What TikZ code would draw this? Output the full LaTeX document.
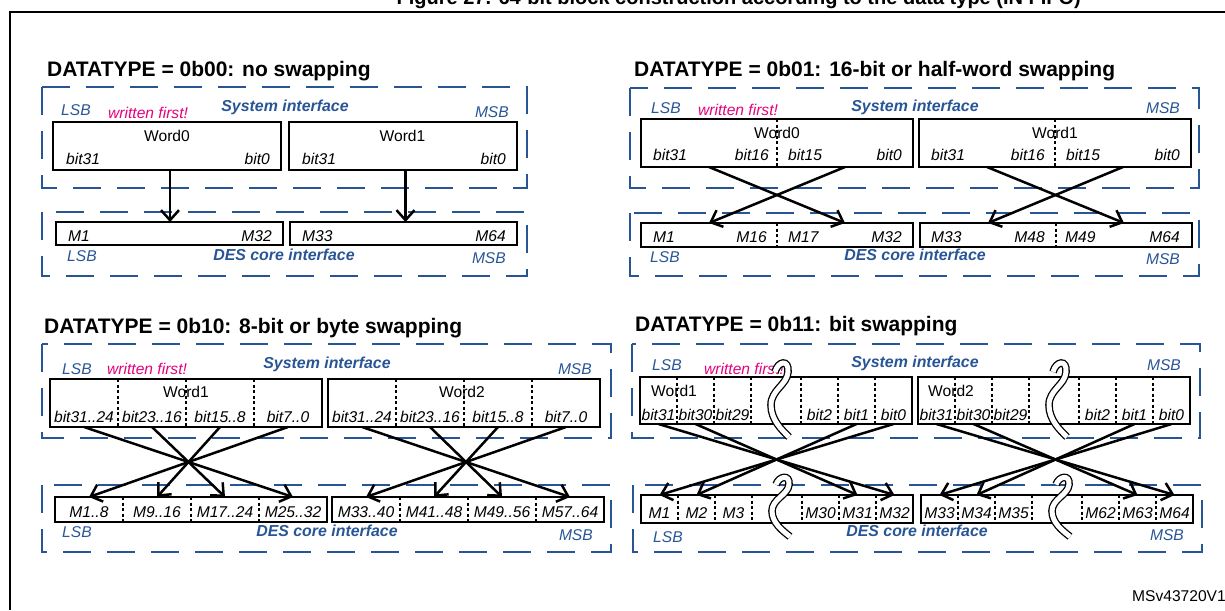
\documentclass[tikz,border=0pt]{standalone}
\usepackage{fontspec}
\setmainfont{Liberation Sans}
\usetikzlibrary{arrows.meta,positioning}
\definecolor{ifblue}{RGB}{40,85,150}
\definecolor{firstpink}{RGB}{230,0,126}

\begin{document}
\begin{tikzpicture}[x=1pt, y=-1pt,
    heading/.style={font=\fontsize{21}{24}\selectfont\bfseries, anchor=base west, inner sep=0},
    lbl/.style={font=\fontsize{15.6}{18}\selectfont\itshape, inner sep=0},
    wtxt/.style={font=\fontsize{15.6}{18}\selectfont, inner sep=0},
    iface/.style={font=\fontsize{15.9}{18}\selectfont\bfseries\itshape, text=ifblue, inner sep=0},
    side/.style={lbl, text=ifblue},
    first/.style={lbl, text=firstpink, anchor=west},
    seg/.style={rectangle, inner sep=0, outer sep=0},
    wbox/.style={seg, draw, line width=2pt},
    box/.style={draw, line width=2pt},
    ifframe/.style={draw=ifblue, line width=2pt, dash pattern=on 28pt off 16pt},
    divider/.style={line width=1.5pt, dash pattern=on 3pt off 2.5pt},
    arrow/.style={-{Straight Barb[length=10pt,width=18pt]}, line width=2.5pt},
    brk/.style={double, double distance=5pt, line width=1.3pt},
    brkpic/.pic={\draw[brk] (-3,-28) .. controls (0,-39) and (11,-41) .. (10,-28)
        .. controls (9,-15) and (-7,-10) .. (-7,5) .. controls (-7,20) and (4,30) .. (11,37);}
]
\useasboundingbox (0,0) rectangle (1225,610);

% outer figure frame and caption
\draw[line width=2pt] (10,610) -- (10,12) -- (1225,12);
\node[font=\fontsize{20}{24}\selectfont\bfseries, anchor=base east, inner sep=0] (title) at (1081,5)
    {Figure 27. 64-bit block construction according to the data type (IN FIFO)};
\node[wtxt, anchor=base east] (ref) at (1226,601) {MSv43720V1};

% ---------------- DATATYPE = 0b00 ----------------
\node[heading] (h00) at (47,77) {DATATYPE = 0b00: no swapping};
\draw[ifframe] (42,87) rectangle (527,188);
\draw[ifframe] (42,212) rectangle (527,276);
\node[side, anchor=west] (lsb00) at (61,110) {LSB};
\node[first] (wf00) at (108,113) {written first!};
\node[iface] (sys00) at (285,107) {System interface};
\node[side, anchor=east] (msb00) at (509,112) {MSB};

\node[wbox, minimum width=228pt, minimum height=48pt] (w00a) at (167,146) {};
\node[wbox, minimum width=228pt, minimum height=48pt] (w00b) at (402.5,146) {};
\node[wtxt] (t00a) at (167,136) {Word0};
\node[wtxt] (t00b) at (402.5,136) {Word1};
\node[lbl, anchor=west] (b00a1) at (66,159) {bit31};
\node[lbl, anchor=east] (b00a2) at (270,159) {bit0};
\node[lbl, anchor=west] (b00b1) at (302,159) {bit31};
\node[lbl, anchor=east] (b00b2) at (506,159) {bit0};

\node[wbox, minimum width=227pt, minimum height=23pt] (m00a) at (169.5,233.5) {};
\node[wbox, minimum width=227pt, minimum height=23pt] (m00b) at (403,233.5) {};
\node[lbl, anchor=west] (n00a1) at (68,236) {M1};
\node[lbl, anchor=east] (n00a2) at (272,236) {M32};
\node[lbl, anchor=west] (n00b1) at (302,236) {M33};
\node[lbl, anchor=east] (n00b2) at (506,236) {M64};
\node[side, anchor=west] (lsb00d) at (67,256) {LSB};
\node[iface] (des00) at (284,255) {DES core interface};
\node[side, anchor=east] (msb00d) at (506,258) {MSB};

\draw[arrow] ([xshift=3pt]w00a.south) -- ([xshift=3pt]w00a.south |- m00a.north);
\draw[arrow] ([xshift=3pt]w00b.south) -- ([xshift=3pt]w00b.south |- m00b.north);

% ---------------- DATATYPE = 0b01 ----------------
\node[heading] (h01) at (634,77) {DATATYPE = 0b01: 16-bit or half-word swapping};
\draw[ifframe] (630,88) rectangle (1199,188);
\draw[ifframe] (630,213) rectangle (1199,276);
\node[side, anchor=west] (lsb01) at (651,108) {LSB};
\node[first] (wf01) at (698,110) {written first!};
\node[iface] (sys01) at (915,107) {System interface};
\node[side, anchor=east] (msb01) at (1180,108) {MSB};

\foreach \n/\x in {w01a/641, w01b/919} {
  \node[seg, minimum width=136pt, minimum height=48pt] (\n1) at (\x+68,143) {};
  \node[seg, minimum width=136pt, minimum height=48pt] (\n2) at (\x+204,143) {};
}
\foreach \n/\x in {m01a/641, m01b/920} {
  \node[seg, minimum width=136pt, minimum height=24pt] (\n1) at (\x+68,235) {};
  \node[seg, minimum width=136pt, minimum height=24pt] (\n2) at (\x+204,235) {};
}
\node[wtxt] (t01a) at (777,133) {Word0};
\node[wtxt] (t01b) at (1055,133) {Word1};
\foreach \n in {w01a, w01b, m01a, m01b} {
  \draw[box] (\n1.north west) rectangle (\n2.south east);
  \draw[divider] (\n1.north east) -- (\n1.south east);
}
\node[lbl, anchor=west] (b01a1) at (653,155) {bit31};
\node[lbl, anchor=east] (b01a2) at (769,155) {bit16};
\node[lbl, anchor=west] (b01a3) at (788,155) {bit15};
\node[lbl, anchor=east] (b01a4) at (902,155) {bit0};
\node[lbl, anchor=west] (b01b1) at (931,155) {bit31};
\node[lbl, anchor=east] (b01b2) at (1045,155) {bit16};
\node[lbl, anchor=west] (b01b3) at (1066,155) {bit15};
\node[lbl, anchor=east] (b01b4) at (1180,155) {bit0};
\node[lbl, anchor=west] (n01a1) at (653,237) {M1};
\node[lbl, anchor=east] (n01a2) at (767,237) {M16};
\node[lbl, anchor=west] (n01a3) at (788,237) {M17};
\node[lbl, anchor=east] (n01a4) at (902,237) {M32};
\node[lbl, anchor=west] (n01b1) at (931,237) {M33};
\node[lbl, anchor=east] (n01b2) at (1045,237) {M48};
\node[lbl, anchor=west] (n01b3) at (1065,237) {M49};
\node[lbl, anchor=east] (n01b4) at (1180,237) {M64};
\node[side, anchor=west] (lsb01d) at (650,257) {LSB};
\node[iface] (des01) at (915,255) {DES core interface};
\node[side, anchor=east] (msb01d) at (1180,259) {MSB};

\foreach \w/\m in {w01a/m01a, w01b/m01b} {
  \draw[arrow] (\w1.south) -- (\m2.north);
  \draw[arrow] (\w2.south) -- (\m1.north);
}

% ---------------- DATATYPE = 0b10 ----------------
\node[heading] (h10) at (44,333) {DATATYPE = 0b10: 8-bit or byte swapping};
\draw[ifframe] (42,344) rectangle (611,438);
\draw[ifframe] (42,485) rectangle (611,552);
\node[side, anchor=west] (lsb10) at (62,369) {LSB};
\node[first] (wf10) at (107,369) {written first!};
\node[iface] (sys10) at (327,364) {System interface};
\node[side, anchor=east] (msb10) at (592,369) {MSB};
\node[wtxt] (t10a) at (186,392) {Word1};
\node[wtxt] (t10b) at (462,392) {Word2};

\foreach \i in {1,...,4} {
  \node[seg, minimum width=68pt, minimum height=48pt] (w10a\i) at (16+68*\i,403) {};
  \node[seg, minimum width=68pt, minimum height=48pt] (w10b\i) at (294+68*\i,403) {};
  \node[seg, minimum width=68pt, minimum height=25pt] (m10a\i) at (21+68*\i,509.5) {};
  \node[seg, minimum width=68pt, minimum height=25pt] (m10b\i) at (298+68*\i,509.5) {};
}
\foreach \n in {w10a, w10b, m10a, m10b} {
  \draw[box] (\n1.north west) rectangle (\n4.south east);
  \foreach \i in {1,2,3}
    \draw[divider] (\n\i.north east) -- (\n\i.south east);
}
\foreach \n/\k in {a/0, b/32} {
  \foreach \i/\t in {1/bit31..24, 2/bit23..16, 3/bit15..8, 4/bit7..0}
    \node[lbl] (b10\n\i) at ([yshift=10pt]w10\n\i.south) {\t};
}
\foreach \i/\t in {1/M1..8, 2/M9..16, 3/M17..24, 4/M25..32}
  \node[lbl] (n10a\i) at ([yshift=-2.5pt]m10a\i) {\t};
\foreach \i/\t in {1/M33..40, 2/M41..48, 3/M49..56, 4/M57..64}
  \node[lbl] (n10b\i) at ([yshift=-2.5pt]m10b\i) {\t};
\node[side, anchor=west] (lsb10d) at (62,532) {LSB};
\node[iface] (des10) at (327,531) {DES core interface};
\node[side, anchor=east] (msb10d) at (593,535) {MSB};

\foreach \n in {a, b} {
  \foreach \i/\j in {1/4, 2/3, 3/2, 4/1}
    \draw[arrow] (w10\n\i.south) -- (m10\n\j.north);
}

% ---------------- DATATYPE = 0b11 ----------------
\node[heading] (h11) at (635,331) {DATATYPE = 0b11: bit swapping};
\draw[ifframe] (632,344) rectangle (1200,438);
\draw[ifframe] (633,485) rectangle (1202,552);
\node[side, anchor=west] (lsb11) at (652,365) {LSB};
\node[iface] (sys11) at (915,363) {System interface};
\node[side, anchor=east] (msb11) at (1181,365) {MSB};

\foreach \i/\dx/\w in {1/18.5/37, 2/55.5/37, 3/92.5/37, 4/136/50, 5/179.5/37, 6/216.5/37, 7/253.5/37} {
  \node[seg, minimum width=\w pt, minimum height=47pt] (w11a\i) at (640+\dx,400.5) {};
  \node[seg, minimum width=\w pt, minimum height=47pt] (w11b\i) at (918+\dx,400.5) {};
  \node[seg, minimum width=\w pt, minimum height=28pt] (m11a\i) at (641+\dx,509) {};
  \node[seg, minimum width=\w pt, minimum height=28pt] (m11b\i) at (921+\dx,509) {};
}
\node[wtxt, anchor=west] (t11a) at (651,391) {Word1};
\node[wtxt, anchor=west] (t11b) at (928,391) {Word2};
\foreach \n in {w11a, w11b, m11a, m11b} {
  \draw[box] (\n1.north west) rectangle (\n7.south east);
  \foreach \i in {1,...,6}
    \draw[divider] (\n\i.north east) -- (\n\i.south east);
}
\foreach \i/\t in {1/bit31, 2/bit30, 3/bit29, 5/bit2, 6/bit1, 7/bit0} {
  \node[lbl] (b11a\i) at ([yshift=9pt]w11a\i.south) {\t};
  \node[lbl] (b11b\i) at ([yshift=9pt]w11b\i.south) {\t};
}
\foreach \i/\t in {1/M1, 2/M2, 3/M3, 5/M30, 6/M31, 7/M32}
  \node[lbl] (n11a\i) at ([yshift=-4pt]m11a\i) {\t};
\foreach \i/\t in {1/M33, 2/M34, 3/M35, 5/M62, 6/M63, 7/M64}
  \node[lbl] (n11b\i) at ([yshift=-4pt]m11b\i) {\t};
\node[side, anchor=west] (lsb11d) at (653,537) {LSB};
\node[iface] (des11) at (917,531) {DES core interface};
\node[side, anchor=east] (msb11d) at (1184,535) {MSB};

\foreach \n in {a, b} {
  \foreach \i/\j in {1/7, 2/6, 6/2, 7/1}
    \draw[arrow] (w11\n\i.south) -- (m11\n\j.north);
}
\node[first] (wf11) at (704,369) {written first!};
% breaks in the bit rows
\pic at (778,400) {brkpic};
\pic at (1056,400) {brkpic};
\pic[yscale=0.8] at (779,507) {brkpic};
\pic[yscale=0.8] at (1059,507) {brkpic};
\end{tikzpicture}
\end{document}
